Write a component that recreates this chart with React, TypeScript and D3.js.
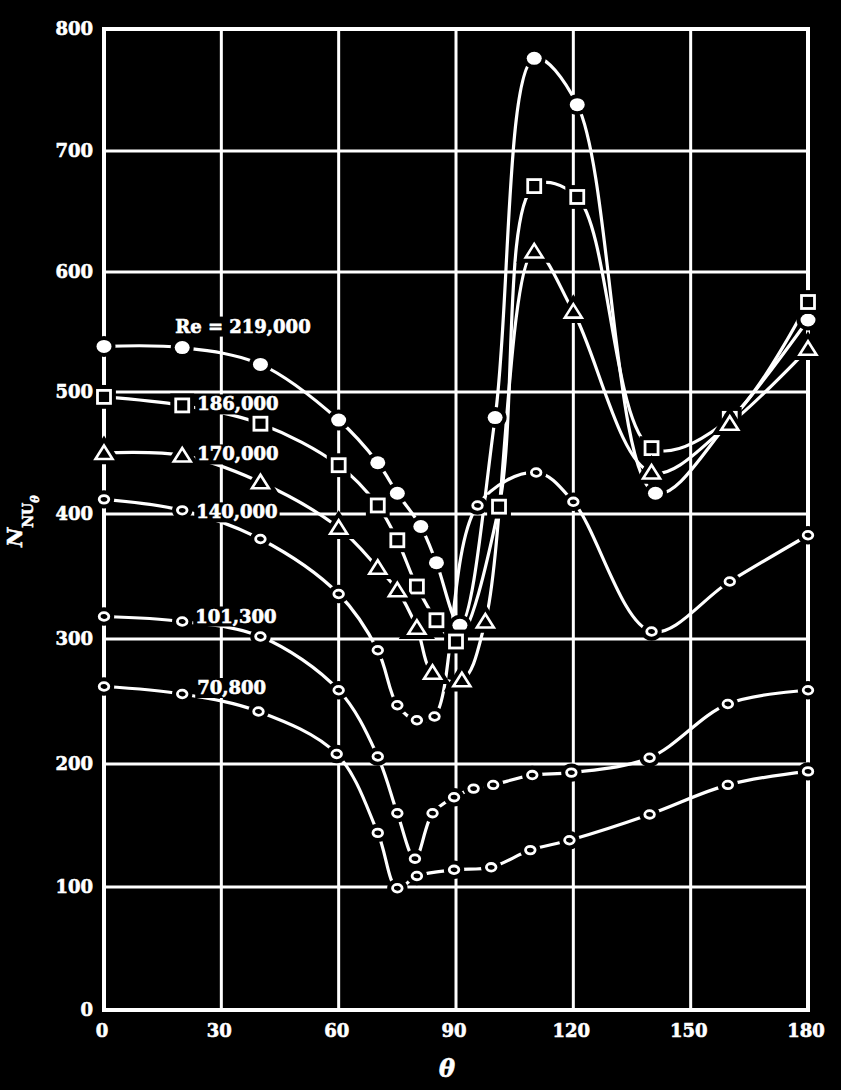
import { useEffect, useRef } from "react";
import * as d3 from "d3";

const WIDTH = 843;
const HEIGHT = 1090;

// angle from the front stagnation point (deg) and local Nusselt number
const thetaTicks = [0, 30, 60, 90, 120, 150, 180];
const nuTicks = [0, 100, 200, 300, 400, 500, 600, 700, 800];

const re219Theta = [0, 20, 40, 60, 70, 75, 81, 85, 91, 100, 110, 121, 141, 160, 180];
const re219Nu = [538, 537, 523, 477, 442, 417, 390, 361, 311, 479, 776, 738, 417, 476, 560];

const re186Theta = [0, 20, 40, 60, 70, 75, 80, 85, 90, 101, 110, 121, 140, 160, 180];
const re186Nu = [496, 489, 474, 440, 407, 379, 342, 315, 298, 406, 671, 662, 454, 478, 575];

const re170Theta = [0, 20, 40, 60, 70, 75, 80, 84, 91.5, 97.5, 110, 120, 140, 160, 180];
const re170Nu = [450, 448, 426, 389, 357, 339, 309, 273, 267, 314, 617, 567, 434, 474, 536];

const re140Theta = [0, 20, 40, 60, 70, 75, 80, 84.5, 95.5, 110.5, 120, 140, 160, 180];
const re140Nu = [412, 403, 380, 336, 291, 247, 235, 238, 407, 434, 410, 306, 346, 383];

const re101Theta = [0, 20, 40, 60, 70, 75, 79.5, 84, 89.5, 94.5, 99.5, 109.5, 119.5, 139.5, 159.5, 180];
const re101Nu = [318, 314, 302, 259, 206, 160, 123, 160, 173, 180, 183, 191, 193, 205, 248, 259];

const re70Theta = [0, 20, 39.5, 59.5, 70, 75, 80, 89.5, 99, 109, 119, 139.5, 159.5, 180];
const re70Nu = [262, 256, 242, 208, 144, 99, 109, 114, 116, 130, 138, 159, 183, 194];

const seriesLabels = ["Re = 219,000", "186,000", "170,000", "140,000", "101,300", "70,800"];

type Marker = "disc" | "square" | "triangle" | "ring";

const FONT = "'DejaVu Serif', serif";

const App: React.FC = () => {
  const svgRef = useRef<SVGSVGElement | null>(null);

  useEffect(() => {
    document.body.style.margin = "0";
    document.body.style.background = "#000";
    if (!svgRef.current) return;

    const svg = d3.select(svgRef.current);
    svg.selectAll("*").remove();

    const x = d3.scaleLinear().domain([0, 180]).range([104, 808]);
    // the scanned grid is slightly uneven, so map each decade on its own
    const y = d3.scaleLinear()
      .domain(nuTicks)
      .range([1010, 887, 764, 639, 514, 392, 272, 151, 29]);

    const series: { theta: number[]; nu: number[]; marker: Marker }[] = [
      { theta: re219Theta, nu: re219Nu, marker: "disc" },
      { theta: re186Theta, nu: re186Nu, marker: "square" },
      { theta: re170Theta, nu: re170Nu, marker: "triangle" },
      { theta: re140Theta, nu: re140Nu, marker: "ring" },
      { theta: re101Theta, nu: re101Nu, marker: "ring" },
      { theta: re70Theta, nu: re70Nu, marker: "ring" },
    ];

    svg.append("rect").attr("width", WIDTH).attr("height", HEIGHT).attr("fill", "#000");
    // scanner edge on the right
    svg.append("rect").attr("x", 841).attr("width", 2).attr("height", HEIGHT).attr("fill", "#fff");

    // grid
    const grid = svg.append("g").attr("stroke", "#fff").attr("stroke-width", 3);
    grid.selectAll("line.v")
      .data(thetaTicks.slice(1, -1))
      .join("line")
      .attr("class", "v")
      .attr("x1", d => x(d)).attr("x2", d => x(d))
      .attr("y1", y(0)).attr("y2", y(800));
    grid.selectAll("line.h")
      .data(nuTicks.slice(1, -1))
      .join("line")
      .attr("class", "h")
      .attr("x1", x(0)).attr("x2", x(180))
      .attr("y1", d => y(d)).attr("y2", d => y(d));
    svg.append("rect")
      .attr("x", x(0)).attr("y", y(800))
      .attr("width", x(180) - x(0)).attr("height", y(0) - y(800))
      .attr("fill", "none").attr("stroke", "#fff").attr("stroke-width", 4);

    // curves
    const line = d3.line<[number, number]>()
      .x(d => x(d[0]))
      .y(d => y(d[1]))
      .curve(d3.curveCatmullRom.alpha(0.5));

    const curves = svg.append("g").attr("fill", "none").attr("stroke", "#fff").attr("stroke-width", 3.2);
    series.forEach(s => {
      const pts = s.theta.map((t, i) => [t, s.nu[i]] as [number, number]);
      curves.append("path").attr("d", line(pts));
    });

    // markers, each with a black halo that opens a gap in the lines
    const halo = 4;
    const marks = svg.append("g");
    const triPath = "M0,-7.5L8.5,6L-8.5,6Z";
    const drawMarker = (kind: Marker, cx: number, cy: number) => {
      const g = marks.append("g").attr("transform", `translate(${cx},${cy})`);
      if (kind === "disc") {
        g.append("ellipse").attr("rx", 7.5).attr("ry", 6.5)
          .attr("fill", "#000").attr("stroke", "#000").attr("stroke-width", halo * 2);
        g.append("ellipse").attr("rx", 7.5).attr("ry", 6.5).attr("fill", "#fff");
      } else if (kind === "square") {
        [["#000", 2.8 + halo * 2], ["#fff", 2.8]].forEach(([c, w]) => {
          g.append("rect").attr("x", -6.5).attr("y", -6.5).attr("width", 13).attr("height", 13)
            .attr("fill", "#000").attr("stroke", c as string).attr("stroke-width", w as number);
        });
      } else if (kind === "triangle") {
        [["#000", 2.6 + halo * 2], ["#fff", 2.6]].forEach(([c, w]) => {
          g.append("path").attr("d", triPath)
            .attr("fill", "#000").attr("stroke", c as string).attr("stroke-width", w as number)
            .attr("stroke-linejoin", "miter");
        });
      } else {
        [["#000", 2.8 + halo * 2], ["#fff", 2.8]].forEach(([c, w]) => {
          g.append("ellipse").attr("rx", 4.8).attr("ry", 3.8)
            .attr("fill", "#000").attr("stroke", c as string).attr("stroke-width", w as number);
        });
      }
    };
    series.forEach(s => {
      s.theta.forEach((t, i) => drawMarker(s.marker, x(t), y(s.nu[i])));
    });

    // series labels sit on black boxes that cut the grid
    const labelDx = [-7, 15, 15, 14, 13, 15];
    const labelDy = [-15, 5, 5, 8, 1, 0];
    const labels = svg.append("g");
    series.forEach((s, i) => {
      const t = labels.append("text")
        .attr("x", x(s.theta[1]) + labelDx[i])
        .attr("y", y(s.nu[1]) + labelDy[i])
        .attr("fill", "#fff")
        .attr("stroke", "#fff")
        .attr("stroke-width", 0.6)
        .attr("font-family", FONT)
        .attr("font-weight", "bold")
        .attr("font-size", 18)
        .text(seriesLabels[i]);
      const b = (t.node() as SVGTextElement).getBBox();
      labels.insert("rect", () => t.node() as SVGTextElement)
        .attr("x", b.x - 2).attr("y", b.y + 1)
        .attr("width", b.width + 4).attr("height", b.height - 1)
        .attr("fill", "#000");
    });

    // tick labels
    const ticks = svg.append("g")
      .attr("fill", "#fff")
      .attr("stroke", "#fff")
      .attr("stroke-width", 0.6)
      .attr("font-family", FONT)
      .attr("font-weight", "bold")
      .attr("font-size", 18);
    ticks.selectAll("text.y")
      .data(nuTicks)
      .join("text")
      .attr("class", "y")
      .attr("x", 93)
      .attr("y", d => y(d))
      .attr("dy", "0.36em")
      .attr("text-anchor", "end")
      .text(d => d);
    ticks.selectAll("text.x")
      .data(thetaTicks)
      .join("text")
      .attr("class", "x")
      .attr("x", d => x(d) - 2)
      .attr("y", 1037)
      .attr("text-anchor", "middle")
      .text(d => d);

    // axis titles
    svg.append("text")
      .attr("x", 447).attr("y", 1077)
      .attr("text-anchor", "middle")
      .attr("fill", "#fff")
      .attr("stroke", "#fff")
      .attr("stroke-width", 0.6)
      .attr("font-family", FONT)
      .attr("font-weight", "bold")
      .attr("font-style", "italic")
      .attr("font-size", 24)
      .text("θ");

    const yTitle = svg.append("text")
      .attr("transform", "translate(22,547) rotate(-90)")
      .attr("fill", "#fff")
      .attr("stroke", "#fff")
      .attr("stroke-width", 0.5)
      .attr("font-family", FONT)
      .attr("font-weight", "bold");
    yTitle.append("tspan").attr("font-style", "italic").attr("font-size", 21).text("N");
    yTitle.append("tspan").attr("font-size", 14).attr("dy", 11).text("NU");
    yTitle.append("tspan").attr("font-style", "italic").attr("font-size", 11).attr("dy", 6).text("θ");
  }, []);

  return <svg ref={svgRef} width={WIDTH} height={HEIGHT} style={{ display: "block" }}></svg>;
};

export default App;
